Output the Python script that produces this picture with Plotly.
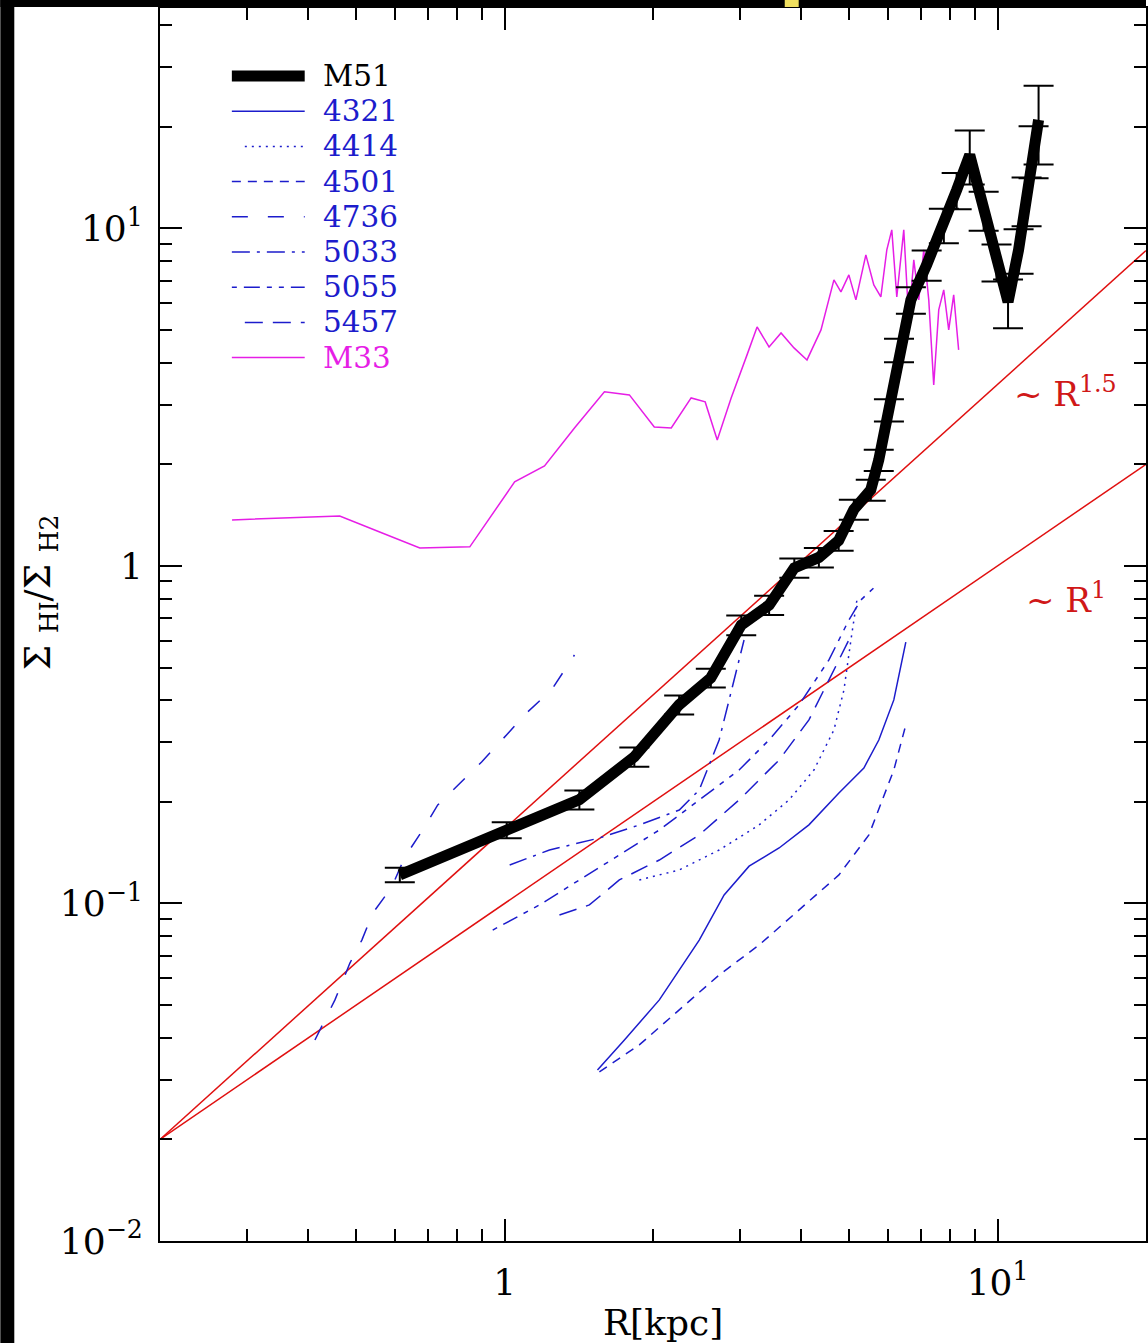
import plotly.graph_objects as go

# ---------------- data ----------------
m51_r = [0.613, 1.01, 1.418, 1.833, 2.26, 2.62, 3.02, 3.44, 3.87, 4.34, 4.76, 5.11, 5.53, 5.74,
         6.02, 6.31, 6.67, 7.18, 7.78, 8.26, 8.78, 9.37, 9.95, 10.5, 11.03, 11.45, 11.83, 12.11]
m51_y = [0.1215, 0.165, 0.203, 0.272, 0.388, 0.466, 0.668, 0.766, 0.987, 1.06, 1.19, 1.47, 1.68, 2.06,
         2.90, 4.36, 6.14, 7.8, 10.24, 13.0, 16.5, 11.34, 7.96, 6.06, 8.64, 12.15, 17.09, 20.97]
m51_err = [0.006, 0.009, 0.013, 0.018, 0.025, 0.03, 0.045, 0.05, 0.065, 0.07, 0.08, 0.10, 0.12, 0.15,
           0.22, 0.35, 0.55, 0.8, 1.2, 1.6, 3.0, 1.5, 1.0, 1.0, 1.3, 2.0, 3.0, 5.5]

n4321_r = [1.543, 1.750, 2.060, 2.482, 2.788, 3.133, 3.604, 4.143, 4.766, 5.355, 5.742, 6.159, 6.514]
n4321_y = [0.0321, 0.0394, 0.0518, 0.0779, 0.106, 0.129, 0.146, 0.171, 0.2126, 0.252, 0.305, 0.401, 0.595]

n4414_r = [1.876, 2.261, 2.724, 3.282, 3.775, 4.241, 4.656, 4.879, 5.041, 5.184]
n4414_y = [0.1174, 0.1257, 0.144, 0.1708, 0.2026, 0.2486, 0.3266, 0.4292, 0.6035, 0.793]

n4501_r = [1.557, 1.876, 2.261, 2.724, 3.282, 3.955, 4.766, 5.482, 6.159, 6.514]
n4501_y = [0.0317, 0.0381, 0.0484, 0.0614, 0.0753, 0.0957, 0.1215, 0.1596, 0.2486, 0.338]

n4736_r = [0.4124, 0.4528, 0.4856, 0.5134, 0.5405, 0.5904, 0.6275, 0.6823, 0.7318, 0.8222,
           0.8982, 1.009, 1.108, 1.245, 1.386]
n4736_y = [0.0394, 0.0518, 0.0666, 0.0779, 0.0937, 0.1119, 0.1373, 0.1651, 0.1958, 0.2322,
           0.2626, 0.3157, 0.3667, 0.4292, 0.5448]

n5033_r = [1.024, 1.233, 1.557, 1.876, 2.261, 2.482, 2.724, 2.921, 3.060]
n5033_y = [0.130, 0.144, 0.1563, 0.1708, 0.1892, 0.2169, 0.3051, 0.4596, 0.6035]

n5055_r = [0.946, 1.177, 1.418, 1.709, 2.060, 2.482, 2.990, 3.439, 3.955, 4.549, 4.993, 5.281, 5.610]
n5055_y = [0.0834, 0.099, 0.1174, 0.1392, 0.1651, 0.2026, 0.2486, 0.3051, 0.3874, 0.5266, 0.6918, 0.793, 0.861]

n5457_r = [1.292, 1.486, 1.709, 2.060, 2.482, 2.990, 3.604, 4.143, 4.549, 4.993]
n5457_y = [0.0924, 0.099, 0.1174, 0.1345, 0.1596, 0.2026, 0.2661, 0.3499, 0.4596, 0.6035]

m33_r = [0.280, 0.367, 0.463, 0.558, 0.673, 0.850, 1.048, 1.205, 1.386, 1.594, 1.791, 2.012, 2.178,
         2.390, 2.552, 2.700, 2.881, 3.103, 3.252, 3.439, 3.637, 3.864, 4.106, 4.383, 4.656, 4.811,
         4.993, 5.159, 5.405, 5.610, 5.797, 5.961, 6.101, 6.245, 6.452, 6.604, 6.761, 6.920, 7.083,
         7.251, 7.421, 7.597, 7.776, 7.959, 8.146, 8.337]
m33_y = [1.369, 1.388, 1.406, 1.261, 1.131, 1.139, 1.774, 1.979, 2.564, 3.279, 3.212, 2.581, 2.564,
         3.146, 3.062, 2.362, 3.146, 4.220, 5.108, 4.456, 4.902, 4.425, 4.077, 5.003, 7.037, 6.486,
         7.281, 6.141, 8.347, 6.803, 6.266, 8.636, 9.899, 6.266, 9.899, 5.357, 8.069, 6.141, 8.636,
         6.141, 3.439, 5.735, 6.574, 5.003, 6.353, 4.365]

ref_r = [0.2, 20.0]
ref_r1_y = [0.02, 2.0]
ref_r15_y = [0.02, 8.6]

legend_names = ["M51", "4321", "4414", "4501", "4736", "5033", "5055", "5457", "M33"]

x_tickvals = [1, 10]
x_ticktext = ["1", "10<sup>1</sup>"]
y_tickvals = [0.01, 0.1, 1, 10]
y_ticktext = ["10<sup>\u22122</sup>", "10<sup>\u22121</sup>", "1", "10<sup>1</sup>"]
x_minor = [0.3, 0.4, 0.5, 0.6, 0.7, 0.8, 0.9, 2, 3, 4, 5, 6, 7, 8, 9]
y_minor = [0.02, 0.03, 0.04, 0.05, 0.06, 0.07, 0.08, 0.09, 0.2, 0.3, 0.4, 0.5, 0.6, 0.7, 0.8, 0.9,
           2, 3, 4, 5, 6, 7, 8, 9, 20, 30, 40]

# ---------------- styles ----------------
BLUE = "#1c1ccc"
MAG = "#e61ee6"
RED = "#e01010"
FONT = "DejaVu Serif"

styles = {
    "4321": "solid",
    "4414": "2px,5px",
    "4501": "9px,7px",
    "4736": "16px,20px",
    "5033": "18px,7px,3px,7px",
    "5055": "5px,7px,16px,7px,5px,7px",
    "5457": "18px,10px",
}
blue_series = [("4321", n4321_r, n4321_y), ("4414", n4414_r, n4414_y), ("4501", n4501_r, n4501_y),
               ("4736", n4736_r, n4736_y), ("5033", n5033_r, n5033_y), ("5055", n5055_r, n5055_y),
               ("5457", n5457_r, n5457_y)]

fig = go.Figure()

fig.add_trace(go.Scatter(x=ref_r, y=ref_r15_y, mode="lines", line=dict(color=RED, width=1.5),
                         showlegend=False, hoverinfo="skip"))
fig.add_trace(go.Scatter(x=ref_r, y=ref_r1_y, mode="lines", line=dict(color=RED, width=1.5),
                         showlegend=False, hoverinfo="skip"))

for name, rr, yy in blue_series:
    fig.add_trace(go.Scatter(x=rr, y=yy, mode="lines", name=name,
                             line=dict(color=BLUE, width=1.5, dash=styles[name]), showlegend=False))

fig.add_trace(go.Scatter(x=m33_r, y=m33_y, mode="lines", name="M33",
                         line=dict(color=MAG, width=1.5), showlegend=False))

fig.add_trace(go.Scatter(x=m51_r, y=m51_y, mode="lines", name="M51",
                         line=dict(color="black", width=11),
                         error_y=dict(type="data", array=m51_err, visible=True, color="black",
                                      thickness=2, width=15),
                         showlegend=False))

# ---------------- legend drawn as shapes + text ----------------
W, H = 1148, 1343
L, R, T, B = 160, 0, 8, 102
pw, ph = W - L - R, H - T - B


def px(x):
    return (x - L) / pw


def py(y):
    return (H - B - y) / ph


leg_y0 = 76
leg_dy = 35.2
leg_colors = ["black"] + [BLUE] * 7 + [MAG]
leg_dash = ["solid"] + [styles[n] for n in legend_names[1:8]] + ["solid"]
leg_width = [11] + [1.5] * 8
leg_x0 = [232, 232, 245, 232, 232, 232, 232, 245, 232]

shapes = []
annotations = []
for i, name in enumerate(legend_names):
    yy = leg_y0 + i * leg_dy
    shapes.append(dict(type="line", xref="paper", yref="paper", x0=px(leg_x0[i]), x1=px(305),
                       y0=py(yy), y1=py(yy), line=dict(color=leg_colors[i], width=leg_width[i],
                                                        dash=leg_dash[i])))
    annotations.append(dict(xref="paper", yref="paper", x=px(322), y=py(yy), text=name,
                            showarrow=False, xanchor="left", yanchor="middle",
                            valign="middle", borderpad=0,
                            font=dict(family=FONT, size=29.5, color=leg_colors[i])))

# power-law labels
annotations.append(dict(xref="paper", yref="paper", x=px(1067), y=py(392),
                        text="~ R<sup>1.5</sup>", showarrow=False, xanchor="center", yanchor="middle",
                        font=dict(family=FONT, size=34, color="#d01818")))
annotations.append(dict(xref="paper", yref="paper", x=px(1068), y=py(598),
                        text="~ R<sup>1</sup>", showarrow=False, xanchor="center", yanchor="middle",
                        font=dict(family=FONT, size=34, color="#d01818")))

# axis titles
annotations.append(dict(xref="paper", yref="paper", x=px(664), y=py(1322),
                        text="R[kpc]", showarrow=False, xanchor="center", yanchor="middle",
                        font=dict(family=FONT, size=36, color="black")))
annotations.append(dict(xref="paper", yref="paper", x=px(40), y=py(592),
                        text="\u03a3 <sub>HI</sub>/\u03a3 <sub>H2</sub>", showarrow=False,
                        textangle=-90, xanchor="center", yanchor="middle",
                        font=dict(family=FONT, size=36, color="black")))

# black borders of the scanned image
shapes.append(dict(type="rect", xref="paper", yref="paper", x0=px(0), x1=px(14), y0=py(H), y1=py(0),
                   fillcolor="black", line=dict(width=0), layer="above"))
shapes.append(dict(type="rect", xref="paper", yref="paper", x0=px(0), x1=px(W), y0=py(7), y1=py(0),
                   fillcolor="black", line=dict(width=0), layer="above"))
shapes.append(dict(type="rect", xref="paper", yref="paper", x0=px(786), x1=px(800), y0=py(7), y1=py(0),
                   fillcolor="#f0e060", line=dict(width=0), layer="above"))

axis_common = dict(type="log", showgrid=False, zeroline=False, showline=True, linecolor="black",
                   linewidth=2, mirror="ticks", ticks="inside", ticklen=22, tickwidth=2,
                   tickcolor="black", tickmode="array",
                   tickfont=dict(family=FONT, size=36, color="black"))

fig.update_layout(
    width=W, height=H,
    margin=dict(l=L, r=R, t=T, b=B),
    paper_bgcolor="white", plot_bgcolor="white",
    showlegend=False,
    shapes=shapes, annotations=annotations,
    xaxis=dict(**axis_common, range=[-0.69897, 1.30103], tickvals=x_tickvals, ticktext=x_ticktext,
               ticklabelstandoff=9,
               minor=dict(tickmode="array", tickvals=x_minor, ticks="inside", ticklen=12,
                          tickwidth=2, tickcolor="black", showgrid=False)),
    yaxis=dict(**axis_common, range=[-2, 1.653], tickvals=y_tickvals, ticktext=y_ticktext,
               ticklabelstandoff=8,
               minor=dict(tickmode="array", tickvals=y_minor, ticks="inside", ticklen=12,
                          tickwidth=2, tickcolor="black", showgrid=False)),
)

fig.write_html("out.html", config={"displayModeBar": False},
               post_script="document.body.style.margin='0';document.body.style.overflow='hidden';")
